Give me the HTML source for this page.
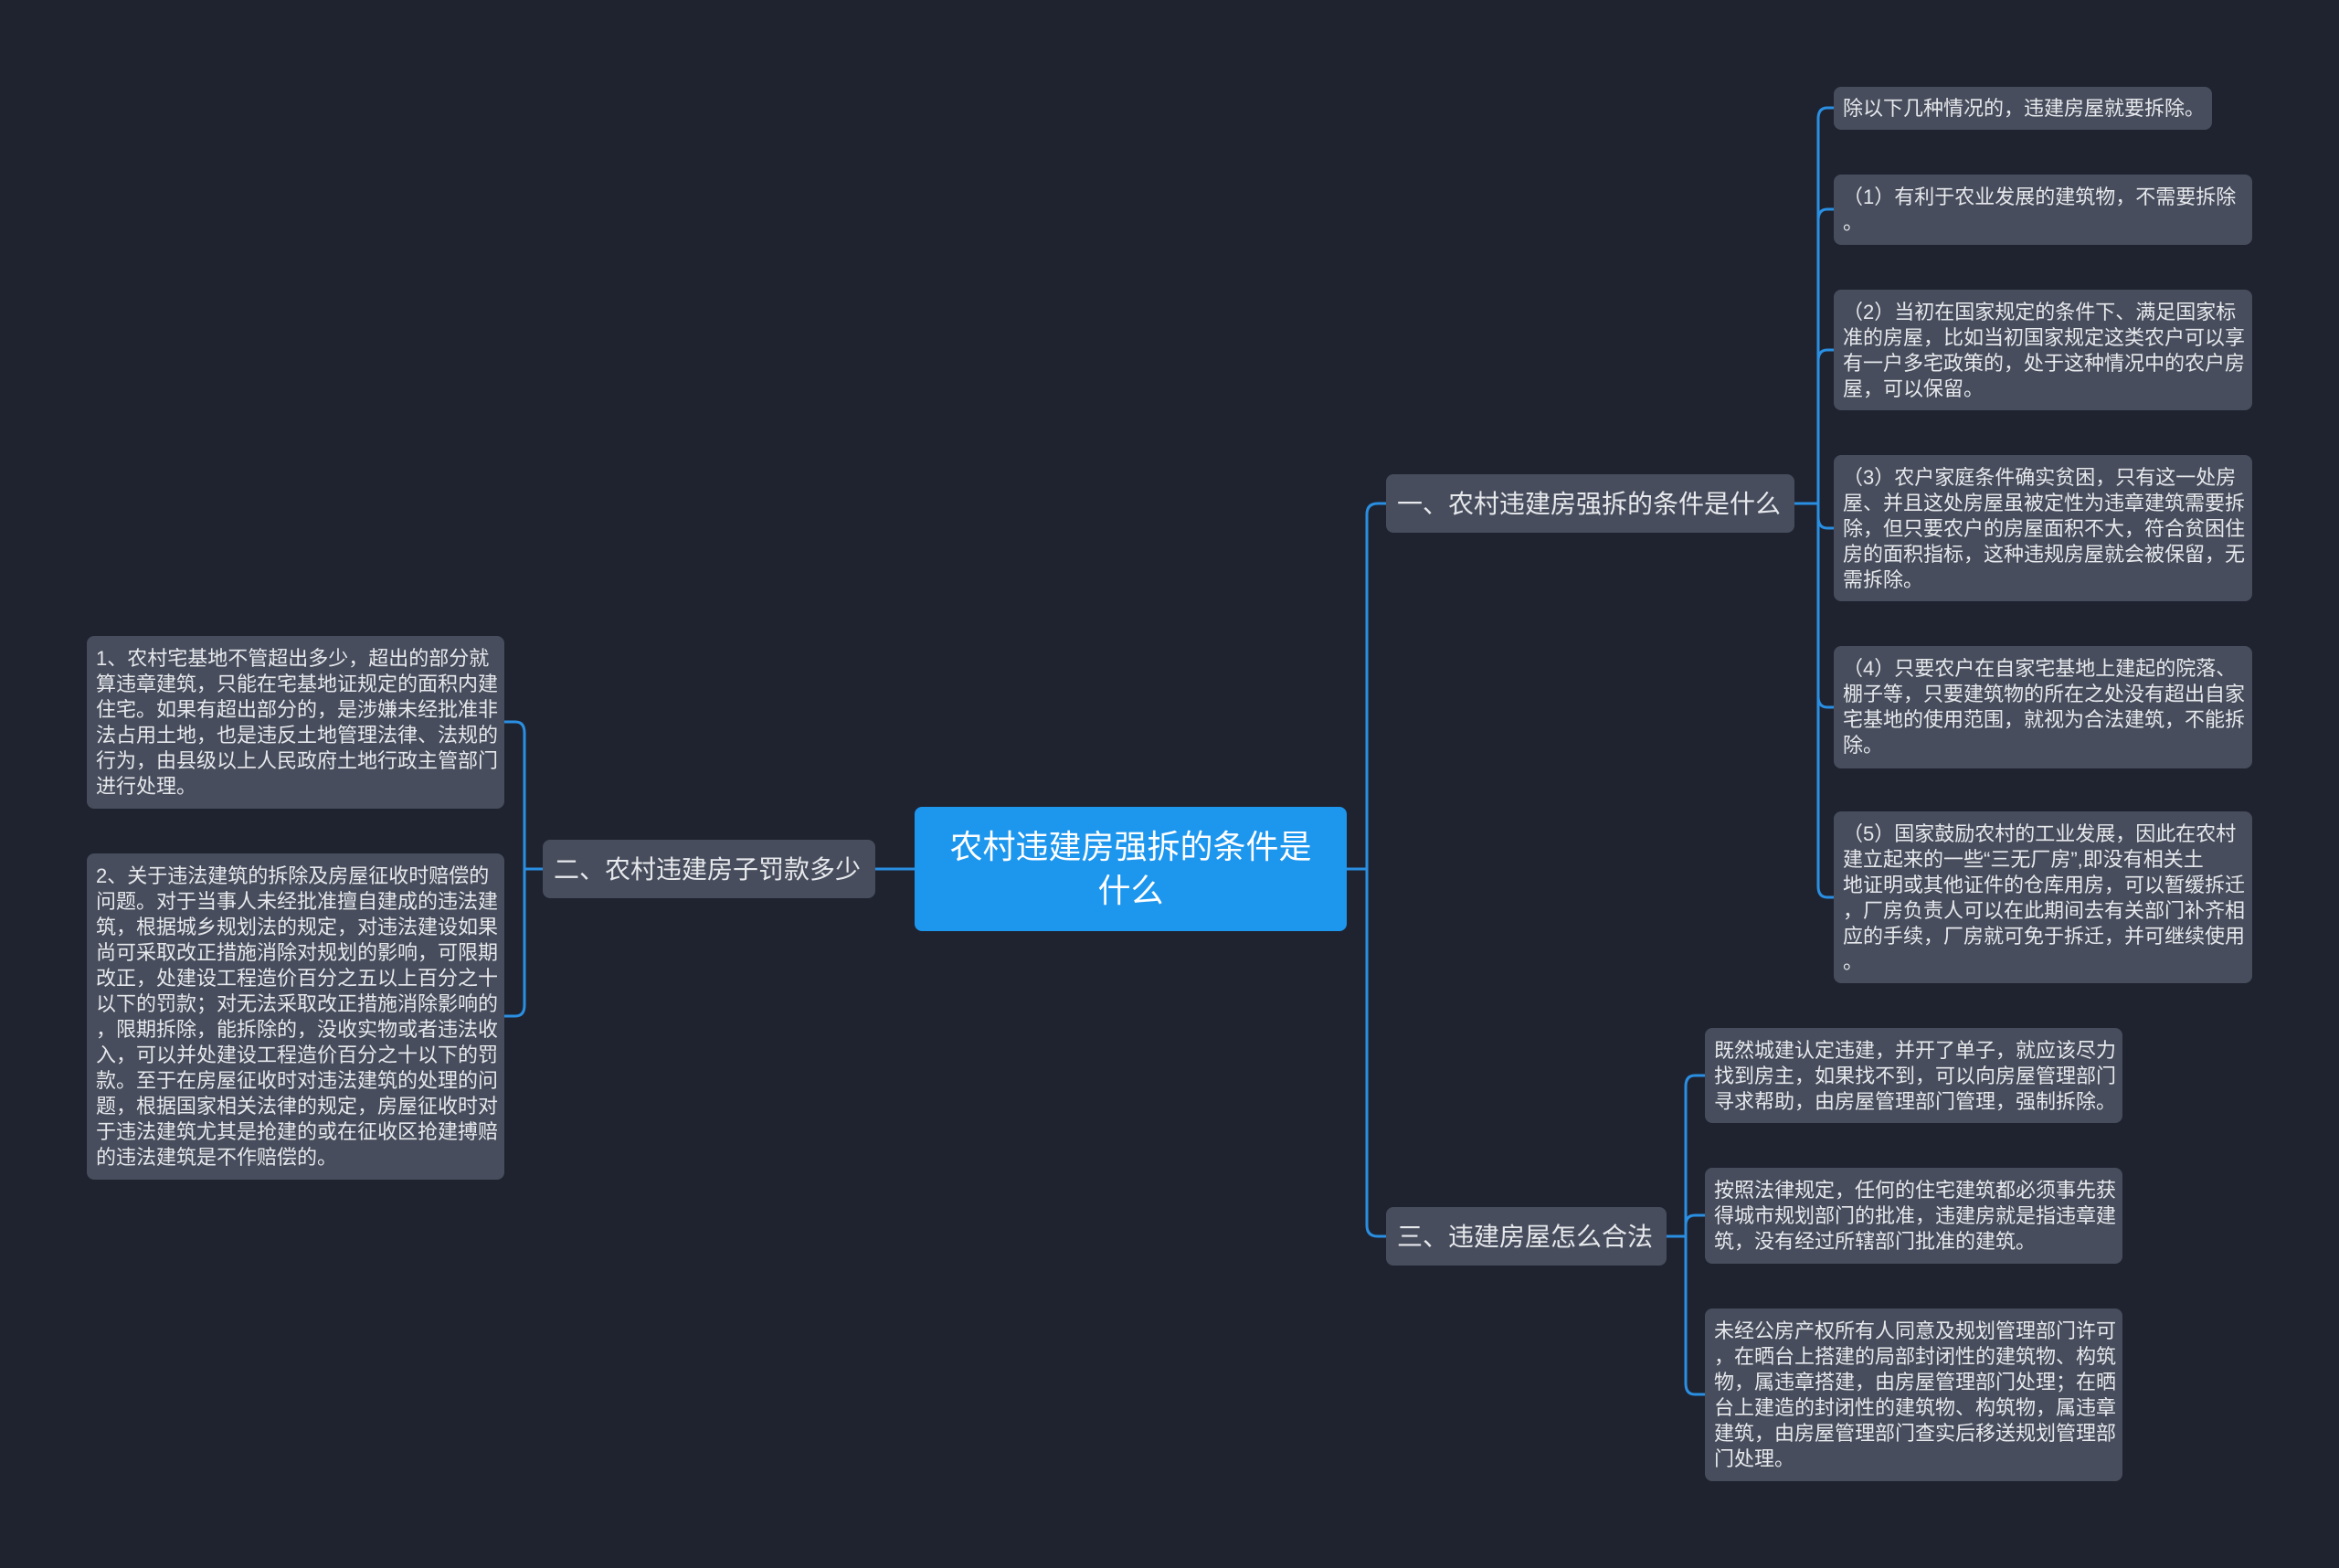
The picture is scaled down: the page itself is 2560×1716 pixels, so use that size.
<!DOCTYPE html>
<html><head><meta charset="utf-8"><style>
body{margin:0;width:2560px;height:1716px;background:#1f2330;overflow:hidden;position:relative;font-family:"Liberation Sans","Noto Sans CJK SC",sans-serif;}
.n{position:absolute;background:#474d5c;border-radius:8px;color:#e6e8ec;box-sizing:border-box;white-space:nowrap;}
.leaf{font-size:22px;line-height:28px;padding:11px 10px 8px;}
.br{font-size:28px;line-height:66px;padding:0 12px;height:64px;}
.root{background:#1d96ee;color:#fff;font-size:36px;line-height:48px;text-align:center;display:flex;align-items:center;justify-content:center;}
svg{position:absolute;left:0;top:0;}
</style></head><body>
<svg width="2560" height="1716" fill="none" stroke="#2a8fe2" stroke-width="3">
<path d="M1474 951 H1496"/>
<path d="M1496 951 V563 Q1496 551 1508 551 H1517"/>
<path d="M1496 951 V1341 Q1496 1353 1508 1353 H1517"/>
<path d="M1001 951 H958"/>
<path d="M1964 551 H1990"/>
<path d="M1990 551 V130 Q1990 118 2000 118 H2007"/>
<path d="M1990 551 V241 Q1990 229 2000 229 H2007"/>
<path d="M1990 551 V395 Q1990 383 2000 383 H2007"/>
<path d="M1990 551 V566 Q1990 578 2000 578 H2007"/>
<path d="M1990 551 V762 Q1990 774 2000 774 H2007"/>
<path d="M1990 551 V970 Q1990 982 2000 982 H2007"/>
<path d="M594 951 H574"/>
<path d="M574 951 V802 Q574 790 564 790 H552"/>
<path d="M574 951 V1100 Q574 1112 564 1112 H552"/>
<path d="M1824 1353 H1845"/>
<path d="M1845 1353 V1189 Q1845 1177 1855 1177 H1866"/>
<path d="M1845 1353 V1341 Q1845 1330 1855 1330 H1866"/>
<path d="M1845 1353 V1514 Q1845 1526 1855 1526 H1866"/>
</svg>
<div class="n root" style="left:1001px;top:883px;width:473px;height:136px;">农村违建房强拆的条件是<br>什么</div>
<div class="n br" style="left:1517px;top:519px;width:447px;">一、农村违建房强拆的条件是什么</div>
<div class="n br" style="left:594px;top:919px;width:364px;">二、农村违建房子罚款多少</div>
<div class="n br" style="left:1517px;top:1321px;width:307px;">三、违建房屋怎么合法</div>

<div class="n leaf" style="left:2007px;top:95px;width:414px;height:47px;padding-top:10px;">除以下几种情况的，违建房屋就要拆除。</div>
<div class="n leaf" style="left:2007px;top:191px;width:458px;height:77px;padding-top:11px;">（1）有利于农业发展的建筑物，不需要拆除<br>。</div>
<div class="n leaf" style="left:2007px;top:317px;width:458px;height:132px;">（2）当初在国家规定的条件下、满足国家标<br>准的房屋，比如当初国家规定这类农户可以享<br>有一户多宅政策的，处于这种情况中的农户房<br>屋，可以保留。</div>
<div class="n leaf" style="left:2007px;top:498px;width:458px;height:160px;">（3）农户家庭条件确实贫困，只有这一处房<br>屋、并且这处房屋虽被定性为违章建筑需要拆<br>除，但只要农户的房屋面积不大，符合贫困住<br>房的面积指标，这种违规房屋就会被保留，无<br>需拆除。</div>
<div class="n leaf" style="left:2007px;top:707px;width:458px;height:134px;">（4）只要农户在自家宅基地上建起的院落、<br>棚子等，只要建筑物的所在之处没有超出自家<br>宅基地的使用范围，就视为合法建筑，不能拆<br>除。</div>
<div class="n leaf" style="left:2007px;top:888px;width:458px;height:188px;">（5）国家鼓励农村的工业发展，因此在农村<br>建立起来的一些“三无厂房”,即没有相关土<br>地证明或其他证件的仓库用房，可以暂缓拆迁<br>，厂房负责人可以在此期间去有关部门补齐相<br>应的手续，厂房就可免于拆迁，并可继续使用<br>。</div>

<div class="n leaf" style="left:95px;top:696px;width:457px;height:189px;">1、农村宅基地不管超出多少，超出的部分就<br>算违章建筑，只能在宅基地证规定的面积内建<br>住宅。如果有超出部分的，是涉嫌未经批准非<br>法占用土地，也是违反土地管理法律、法规的<br>行为，由县级以上人民政府土地行政主管部门<br>进行处理。</div>
<div class="n leaf" style="left:95px;top:934px;width:457px;height:357px;">2、关于违法建筑的拆除及房屋征收时赔偿的<br>问题。对于当事人未经批准擅自建成的违法建<br>筑，根据城乡规划法的规定，对违法建设如果<br>尚可采取改正措施消除对规划的影响，可限期<br>改正，处建设工程造价百分之五以上百分之十<br>以下的罚款；对无法采取改正措施消除影响的<br>，限期拆除，能拆除的，没收实物或者违法收<br>入，可以并处建设工程造价百分之十以下的罚<br>款。至于在房屋征收时对违法建筑的处理的问<br>题，根据国家相关法律的规定，房屋征收时对<br>于违法建筑尤其是抢建的或在征收区抢建搏赔<br>的违法建筑是不作赔偿的。</div>

<div class="n leaf" style="left:1866px;top:1125px;width:457px;height:104px;">既然城建认定违建，并开了单子，就应该尽力<br>找到房主，如果找不到，可以向房屋管理部门<br>寻求帮助，由房屋管理部门管理，强制拆除。</div>
<div class="n leaf" style="left:1866px;top:1278px;width:457px;height:105px;">按照法律规定，任何的住宅建筑都必须事先获<br>得城市规划部门的批准，违建房就是指违章建<br>筑，没有经过所辖部门批准的建筑。</div>
<div class="n leaf" style="left:1866px;top:1432px;width:457px;height:189px;">未经公房产权所有人同意及规划管理部门许可<br>，在晒台上搭建的局部封闭性的建筑物、构筑<br>物，属违章搭建，由房屋管理部门处理；在晒<br>台上建造的封闭性的建筑物、构筑物，属违章<br>建筑，由房屋管理部门查实后移送规划管理部<br>门处理。</div>
</body></html>
